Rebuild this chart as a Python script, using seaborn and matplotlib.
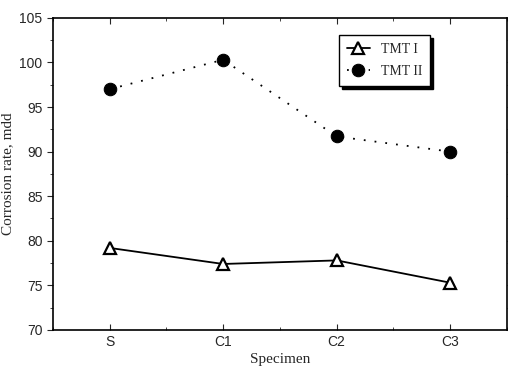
import pandas as pd
import matplotlib
matplotlib.use("Agg")
import matplotlib.pyplot as plt
import seaborn as sns
from matplotlib.ticker import MultipleLocator

# data
specimens = ["S", "C1", "C2", "C3"]
tmt1 = [79.2, 77.4, 77.8, 75.3]
tmt2 = [97.0, 100.3, 91.7, 90.0]

sns.set_style("ticks")
plt.rcParams["font.family"] = ["Liberation Sans", "DejaVu Sans"]

df1 = pd.DataFrame({"Specimen": specimens, "rate": tmt1})
df2 = pd.DataFrame({"Specimen": specimens, "rate": tmt2})

fig = plt.figure(figsize=(5.08, 3.72), dpi=100)
ax = fig.add_axes([0.104, 0.113, 0.894, 0.839])

sns.lineplot(data=df1, x="Specimen", y="rate", ax=ax, color="black", lw=1.3,
             marker="^", markersize=9, markerfacecolor="white",
             markeredgecolor="black", markeredgewidth=1.6, label="TMT I")
sns.lineplot(data=df2, x="Specimen", y="rate", ax=ax, color="black", lw=1.3,
             linestyle=(0, (1, 5)), marker="o", markersize=9,
             markeredgecolor="black", label="TMT II")

ax.set_xlim(-0.5, 3.5)
ax.set_ylim(70, 105)
ax.yaxis.set_major_locator(MultipleLocator(5))
ax.yaxis.set_minor_locator(MultipleLocator(2.5))
ax.xaxis.set_minor_locator(MultipleLocator(0.5))

ax.tick_params(which="both", direction="in", top=True, right=True, labelsize=10)
ax.tick_params(axis="y", which="both", direction="out")
ax.tick_params(which="major", length=4)
ax.tick_params(which="minor", length=2)
for s in ax.spines.values():
    s.set_linewidth(1.2)
    s.set_color("black")

ax.set_xlabel("Specimen", family="Liberation Serif", fontsize=11, labelpad=3)
ax.set_ylabel("Corrosion rate, mdd", family="Liberation Serif", fontsize=11, labelpad=4)

leg = ax.legend(loc="upper left", bbox_to_anchor=(0.63, 0.945), borderaxespad=0,
                frameon=True, fancybox=False, shadow={"color": "black", "alpha": 1},
                edgecolor="black", prop={"family": "Liberation Serif", "size": 10},
                handlelength=1.6, handletextpad=0.8, borderpad=0.6, labelspacing=0.6)
leg.get_frame().set_linewidth(1.0)

fig.savefig("out.png", dpi=100)
